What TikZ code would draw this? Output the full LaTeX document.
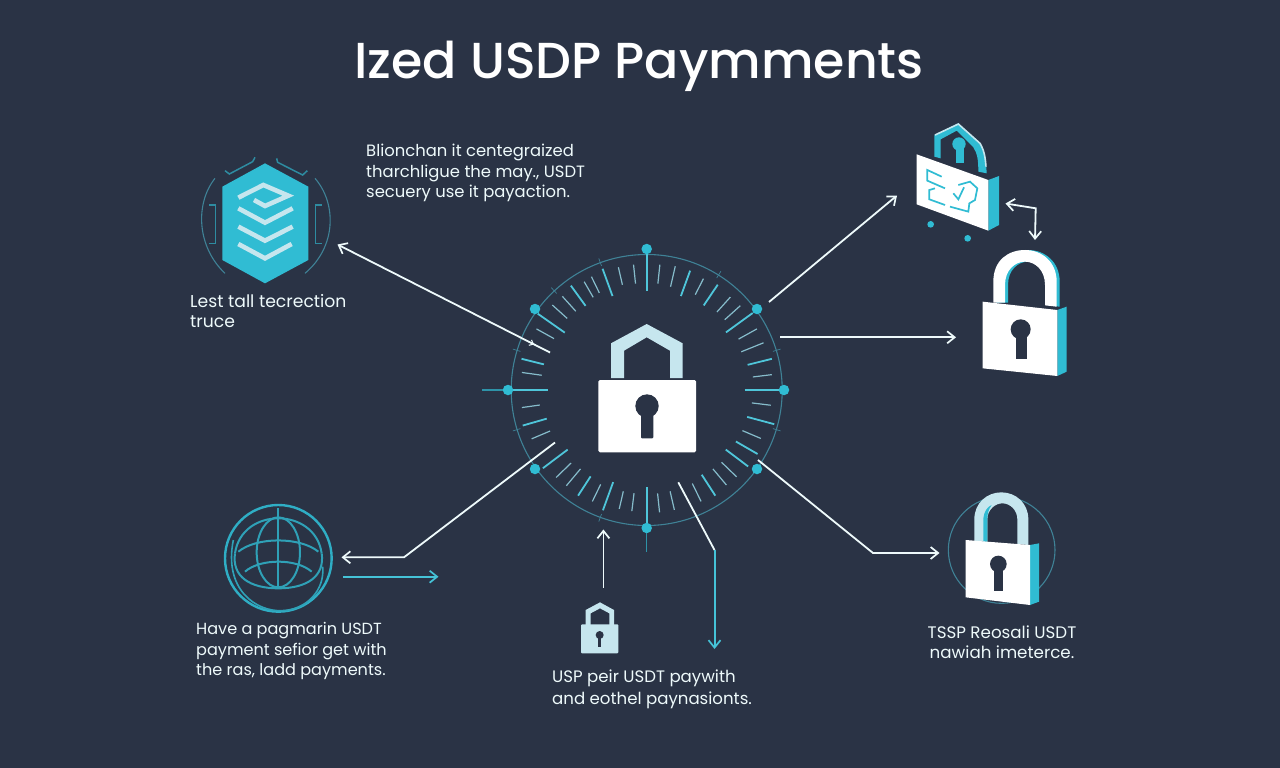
\documentclass[tikz,border=0pt]{standalone}
\usepackage{fontspec}
\setmainfont{Poppins}
\newfontfamily\titlefont{Poppins Medium}
\usetikzlibrary{arrows.meta,positioning,calc}
\definecolor{bgdark}{HTML}{2A3345}
\definecolor{cyanmain}{HTML}{30BCD3}
\definecolor{cyanpale}{HTML}{C6E6EE}
\definecolor{ringteal}{HTML}{3F8296}
\definecolor{tickdim}{HTML}{86BCCB}
\tikzset{
	>={Straight Barb[length=7.5pt,width=12pt,line width=1.7pt]},
	whiteline/.style={draw=white!92!cyanmain,line width=1.8pt},
	cyanline/.style={draw=cyanmain!90!white,line width=2pt},
	ticklong/.style={draw=cyanmain!85!white,line width=1.8pt},
	tickshort/.style={draw=tickdim,line width=1.2pt},
	fineline/.style={draw=ringteal,line width=1.1pt},
	hubdot/.style={circle,fill=cyanmain,inner sep=0pt,minimum size=10.5pt},
	bodytext/.style={text=white!92!cyanmain,align=left,font=\fontsize{16.4}{20.2}\selectfont,inner sep=0pt},
	globeline/.style={draw=cyanmain!80!bgdark,line width=2pt},
	zoomed/.style 2 args={shift={(#1,#2)},x=0.33333pt,y=-0.33333pt}
}
\begin{document}
\begin{tikzpicture}[x=1pt,y=-1pt]
	\useasboundingbox (0,0) rectangle (1280,768);
	\fill[bgdark] (0,0) rectangle (1280,768);
	\node at (639,66) [text=white,font=\titlefont\fontsize{50.6}{54}\selectfont,inner sep=0pt] (title) {Ized USDP Paymments};

	% central dial
	\node at (646.7,390) [circle,fill=none,fineline,inner sep=0pt,minimum size=271pt] (ring) {};
	\begin{scope}[shift={(646.7,390)}]
		\foreach \a/\ri/\ro in {84/107/126,77/106/127,63/107/125,48/105/125,42/105/126,29/105/126,22/102/126,7/107/126,
			-7/106/125,-23/104/124,-44/104/125,-50/103/124,-64/104/124,-77/104/123,-84/104/123,
			-97/104/122,-103/104/122,-116/105/124,-130/103/125,-136/105/126,-157/105/125,-172/108/126,
			172/106/126,151/106/126,138/107/127,132/106/126,120/107/125,116/108/126,103/108/126,96/107/126}
			\draw[tickshort] (\a:\ri pt) -- (\a:\ro pt);
		\foreach \a/\ri/\ro in {90/99/137,70/100/127,56/102/127,36/98/131,14/104/129,0/98/133,
			-15/104/132,-30/103/128,-37/99/127,-57/101/126,-90/97/133,
			-110/98/128,-123/103/126,-143/99/130,-164/104/129,180/99/138,
			166/106/129,145/100/133,126/104/129,110/100/129}
			\draw[ticklong] (\a:\ri pt) -- (\a:\ro pt);
		% small marks across the ring
		\foreach \a in {110,133,58,17,-17,-163,163,-110}
			\draw[fineline,line width=.7pt] (\a:132pt) -- (\a:140pt);
	\end{scope}
	\node at (646.7,249) [hubdot] (dotN) {};
	\node at (757,309) [hubdot] (dotNE) {};
	\node at (784,390) [hubdot] (dotE) {};
	\node at (757,469) [hubdot] (dotSE) {};
	\node at (646.7,528) [hubdot] (dotS) {};
	\node at (535,469) [hubdot] (dotSW) {};
	\node at (508,390) [hubdot] (dotW) {};
	\node at (535,309) [hubdot] (dotNW) {};
	\coordinate (stemW) at (482,390);
	\coordinate (stemS) at (646.7,552);
	\draw[fineline,draw=cyanmain!70!bgdark] (dotW) -- (stemW);
	\draw[fineline,draw=cyanmain!70!bgdark] (dotS) -- (stemS);

	% central lock
	\fill[cyanpale] (611,378) -- (611,343.3) -- (646.7,324) -- (682.7,343.3) -- (682.7,378) -- (670,378) -- (670,350.7) -- (646.7,337.3) -- (624,350.7) -- (624,378) -- cycle;
	\fill[white,rounded corners=1.5pt] (598.3,380) rectangle (696,452.3);
	\fill[bgdark] (647,406) circle (11.7);
	\fill[bgdark,rounded corners=1pt] (641,410) rectangle (653.3,438.3);

	% hexagon
	\begin{scope}[zoomed={180}{130}]
		\fill[cyanmain] (255,100) -- (385,170) -- (385,390) -- (255,460) -- (127,390) -- (127,170) -- cycle;
		\draw[cyanpale,line width=4.6pt] (175,203) -- (250,165) -- (325,197) -- (255,228) -- (222,210);
		\draw[cyanpale,line width=4.6pt] (175,235) -- (255,278) -- (338,235);
		\draw[cyanpale,line width=4.6pt] (175,290) -- (255,332) -- (338,290);
		\draw[cyanpale,line width=4.6pt] (175,342) -- (255,385) -- (335,342);
		\draw[fineline] (105,145) .. controls (45,220) and (50,350) .. (135,430);
		\draw[fineline] (405,145) .. controls (470,220) and (470,350) .. (375,430);
		\draw[fineline,draw=cyanmain!65!bgdark,line width=1.5pt] (88,225) -- (107,225) -- (107,340) -- (88,340);
		\draw[fineline,draw=cyanmain!65!bgdark,line width=1.5pt] (425,225) -- (407,225) -- (407,340) -- (425,340);
		\draw[fineline,draw=cyanmain!65!bgdark,line width=1.5pt] (135,122) -- (148,132) -- (218,95) -- (225,82);
		\draw[fineline,draw=cyanmain!65!bgdark,line width=1.5pt] (290,85) -- (293,97) -- (368,135) -- (382,122);
	\end{scope}

	% top right lock
	\begin{scope}[zoomed={890}{110}]
		\fill[cyanmain] (207,102) circle (20);
		\fill[cyanmain] (197,110) rectangle (222,160);
		\fill[cyanmain] (133,140) -- (133,75) -- (205,40) -- (270,100) .. controls (285,125) and (288,150) .. (290,190) -- (265,185) .. controls (265,150) and (262,130) .. (250,112) -- (200,62) -- (152,88) -- (152,145) -- cycle;
		\draw[cyanpale,line width=1.6pt] (135,75) -- (205,42) -- (270,100) .. controls (285,125) and (286,150) .. (288,170);
		\fill[cyanmain] (295,210) -- (327,198) -- (327,345) -- (295,362) -- cycle;
		\fill[white] (80,133) -- (295,210) -- (295,362) -- (80,283) -- cycle;
		\draw[cyanmain,line width=1.7pt] (155,200) -- (112,180) -- (112,212) -- (165,235);
		\draw[cyanmain,line width=1.7pt] (135,235) -- (118,240) -- (118,268) -- (165,285);
		\draw[cyanmain,line width=1.7pt] (190,250) -- (205,268) -- (222,232);
		\draw[cyanmain,line width=1.7pt] (205,225) -- (240,215) -- (262,235) -- (255,270) -- (238,280) -- (235,305) -- (180,290);
		\fill[cyanmain] (122,343) circle (10);
		\fill[cyanmain] (233,385) circle (10);
	\end{scope}

	% white lock
	\begin{scope}[zoomed={890}{110}]
		\fill[cyanmain,xshift=3pt] (310,578) -- (310,515) .. controls (310,450) and (355,420) .. (405,420) .. controls (455,420) and (500,455) .. (500,515) -- (500,590) -- (465,586) -- (465,525) .. controls (465,480) and (435,455) .. (405,455) .. controls (375,455) and (345,480) .. (345,525) -- (345,578) -- cycle;
		\fill[white] (310,578) -- (310,515) .. controls (310,450) and (355,420) .. (405,420) .. controls (455,420) and (500,455) .. (500,515) -- (500,590) -- (465,586) -- (465,525) .. controls (465,480) and (435,455) .. (405,455) .. controls (375,455) and (345,480) .. (345,525) -- (345,578) -- cycle;
		\fill[cyanmain] (502,600) -- (530,590) -- (530,785) -- (502,798) -- cycle;
		\fill[white] (278,575) -- (502,600) -- (502,798) -- (278,775) -- cycle;
		\fill[bgdark] (392,658) circle (30);
		\fill[bgdark] (378,670) rectangle (410,748);
	\end{scope}

	% lower right lock
	\begin{scope}[zoomed={930}{480}]
		\draw[fineline] (215,210) circle (160);
		\fill[cyanpale] (133,185) -- (133,118) .. controls (133,70) and (170,37) .. (214,37) .. controls (258,37) and (295,70) .. (295,118) -- (295,195) -- (262,192) -- (262,118) .. controls (262,90) and (240,70) .. (217,70) .. controls (195,70) and (172,90) .. (172,118) -- (172,185) -- cycle;
		\fill[cyanmain] (160,185) -- (160,115) .. controls (162,95) and (172,80) .. (185,75) .. controls (175,90) and (172,100) .. (172,118) -- (172,185) -- cycle;
		\fill[cyanmain] (300,195) -- (327,190) -- (327,365) -- (300,375) -- cycle;
		\fill[white] (107,180) -- (300,195) -- (300,375) -- (107,352) -- cycle;
		\fill[bgdark] (205,252) circle (25);
		\fill[bgdark] (192,262) rectangle (220,333);
	\end{scope}

	% small lock
	\begin{scope}[zoomed={540}{520}]
		\fill[cyanpale] (137,315) -- (137,270) -- (180,247) -- (222,270) -- (222,315) -- (208,315) -- (208,280) -- (180,265) -- (152,280) -- (152,315) -- cycle;
		\fill[cyanpale,rounded corners=1pt] (123,313) rectangle (235,400);
		\fill[bgdark] (179,345) circle (12);
		\fill[bgdark] (174,350) rectangle (184,380);
	\end{scope}

	% globe
	\begin{scope}[zoomed={200}{490}]
		\draw[globeline,draw=cyanmain!90!bgdark,line width=2.4pt] (235,205) circle (160);
		\draw[globeline] (105,190) .. controls (125,50) and (345,50) .. (365,190);
		\draw[globeline] (105,190) .. controls (95,260) and (150,295) .. (235,295) .. controls (320,295) and (375,260) .. (365,190);
		\draw[globeline] (235,187) ellipse (65 and 105);
		\draw[globeline] (235,55) -- (235,292);
		\draw[globeline] (115,185) .. controls (170,140) and (300,140) .. (355,185);
		\draw[globeline] (135,245) .. controls (180,205) and (290,205) .. (335,245);
		\draw[globeline,line width=1.6pt] (100,150) .. controls (70,300) and (170,365) .. (245,362) .. controls (320,360) and (375,300) .. (368,230);
	\end{scope}

	% connectors
	\coordinate (leftS) at (550,352.5);
	\coordinate (leftE) at (337.5,244.5);
	\coordinate (leftM) at (527,341);
	\coordinate (leftN) at (534,344.5);
	\coordinate (neS) at (769,302);
	\coordinate (neE) at (897,195.5);
	\coordinate (eastS) at (780,337.3);
	\coordinate (eastE) at (956,337.3);
	\coordinate (pairA) at (1005.5,203.5);
	\coordinate (pairM) at (1035.7,208.3);
	\coordinate (pairB) at (1035,240);
	\coordinate (swS) at (555,442.5);
	\coordinate (swM) at (404,557.3);
	\coordinate (swE) at (341.5,557.3);
	\coordinate (cyS) at (343.3,576.7);
	\coordinate (cyE) at (438.5,576.7);
	\coordinate (upS) at (603.4,587.5);
	\coordinate (upE) at (603.4,529.5);
	\coordinate (sS) at (678.3,482.3);
	\coordinate (sM) at (714.5,550);
	\coordinate (sE) at (714.5,649);
	\coordinate (seS) at (758,460);
	\coordinate (seM) at (873,553);
	\coordinate (seE) at (939.5,553);
	\draw [->,whiteline] (leftS) -- (leftE);
	\draw [-{Straight Barb[length=3.5pt,width=6pt,line width=1pt]},whiteline,line width=1pt] (leftM) -- (leftN);
	\draw [->,whiteline] (neS) -- (neE);
	\draw [->,whiteline] (eastS) -- (eastE);
	\draw [<->,whiteline] (pairA) -- (pairM) -- (pairB);
	\draw [->,whiteline] (swS) -- (swM) -- (swE);
	\draw [->,cyanline] (cyS) -- (cyE);
	\draw [->,whiteline] (upS) -- (upE);
	\draw [whiteline] (sS) -- (sM);
	\draw [->,cyanline] (sM) -- (sE);
	\draw [->,whiteline] (seS) -- (seM) -- (seE);

	% labels
	\node at (366,173) [bodytext,anchor=west] (labelTop) {Blionchan it centegraized\\tharchligue the may., USDT\\secuery use it payaction.};
	\node at (190,311) [bodytext,anchor=west,font=\fontsize{17.2}{20.2}\selectfont] (labelHex) {Lest tall tecrection\\truce};
	\node at (196,651) [bodytext,anchor=west,font=\fontsize{16.1}{20.2}\selectfont] (labelGlobe) {Have a pagmarin USDT\\payment sefior get with\\the ras, ladd payments.};
	\node at (552,689.5) [bodytext,anchor=west,font=\fontsize{16.6}{22}\selectfont] (labelLock) {USP peir USDT paywith\\and eothel paynasionts.};
	\node at (1002,642.5) [bodytext,align=center,font=\fontsize{16.7}{20.2}\selectfont] (labelRight) {TSSP Reosali USDT\\nawiah imeterce.};
\end{tikzpicture}
\end{document}
